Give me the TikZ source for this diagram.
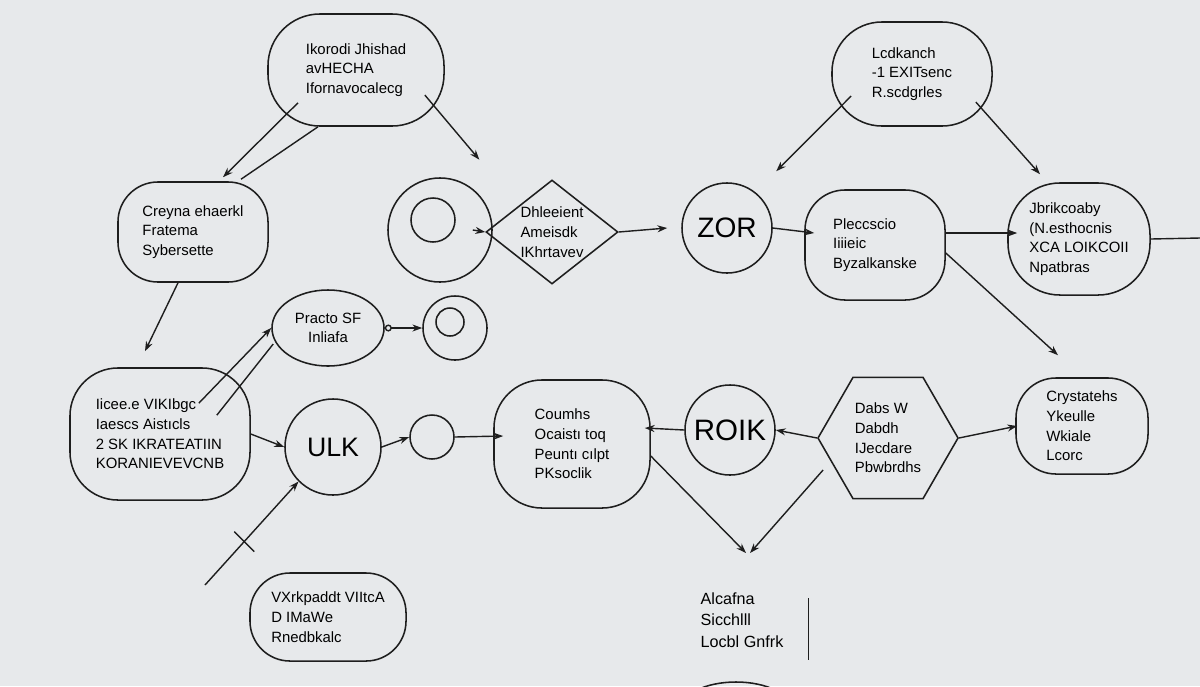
\documentclass[tikz,border=0pt]{standalone}
\usepackage{fontspec}
\setmainfont{Liberation Sans}
\usetikzlibrary{positioning,arrows.meta,shapes.geometric,calc}
\definecolor{Ink}{HTML}{1E1E1E}
\definecolor{Paper}{HTML}{E7E9EB}
\tikzset{
  blob/.style={draw=Ink,line width=1.1pt,rounded corners=1cm,align=left,inner sep=2pt,font=\fontsize{10.6}{14}\selectfont},
  ring/.style={draw=Ink,line width=1.1pt,circle,inner sep=0pt},
  txt/.style={align=left,font=\fontsize{10.6}{14}\selectfont},
  word/.style={font=\fontsize{20}{22}\selectfont},
  link/.style={draw=Ink,line width=1pt,-{Stealth[length=7pt,width=5pt]}},
  plain/.style={draw=Ink,line width=1pt},
}
\begin{document}
\begin{tikzpicture}[x=0.025cm,y=-0.025cm]
  \fill[Paper] (0,0) rectangle (1200,686);
  \useasboundingbox (0,0) rectangle (1200,686);
  % top row
  \node[blob,minimum width=4.4cm,minimum height=2.8cm,rounded corners=1.3cm] (korodi) at (356,70) {Ikorodi Jhishad\\avHECHA\\Ifornavocalecg};
  \node[blob,minimum width=4cm,minimum height=2.6cm,rounded corners=1.25cm] (lcd) at (912,74) {Lcdkanch\\-1 EXITsenc\\R.scdgrles};
  % second row
  \node[blob,minimum width=3.75cm,minimum height=2.5cm] (creyna) at (193,232) {Creyna ehaerkl\\Fratema\\Sybersette};
  \node[ring,minimum size=2.6cm] (bigc) at (440,230) {};
  \node[ring,minimum size=1.1cm] (bigin) at (433,220) {};
  \node[draw=Ink,line width=1.1pt,diamond,minimum width=3.3cm,minimum height=2.6cm,inner sep=0pt] (dhle) at (552,232) {};
  \node[txt] at (dhle) {Dhleeient\\Ameisdk\\IKhrtavev};
  \node[ring,word,minimum size=2.25cm] (zor) at (727,228) {ZOR};
  \node[blob,minimum width=3.5cm,minimum height=2.75cm] (plec) at (875,245) {Pleccscio\\Iiiieic\\Byzalkanske};
  \node[blob,minimum width=3.55cm,minimum height=2.8cm,rounded corners=1.3cm] (jbri) at (1079,239) {Jbrikcoaby\\(N.esthocnis\\XCA LOIKCOII\\Npatbras};
  % third row
  \node[draw=Ink,line width=1.1pt,ellipse,minimum width=2.8cm,minimum height=1.9cm,inner sep=0pt,txt,align=center] (practo) at (328,328) {Practo SF\\Inliafa};
  \node[ring,minimum size=1.6cm] (loop) at (455,328) {};
  \node[ring,minimum size=0.7cm] (loopin) at (450,322) {};
  % fourth row
  \node[blob,minimum width=4.5cm,minimum height=3.3cm,rounded corners=1.2cm] (iicee) at (160,434) {Iicee.e VIKIbgc\\Iaescs Aistıcls\\2 SK IKRATEATIIN\\KORANIEVEVCNB};
  \node[ring,word,font=\fontsize{19}{21}\selectfont,minimum size=2.4cm] (ulk) at (333,447) {ULK};
  \node[ring,minimum size=1.1cm] (knot) at (432,437) {};
  \node[blob,minimum width=3.9cm,minimum height=3.2cm,rounded corners=1.2cm] (coumhs) at (572,444) {Coumhs\\Ocaistı toq\\Peuntı cılpt\\PKsoclik};
  \node[ring,word,font=\fontsize{21}{23}\selectfont,minimum size=2.25cm] (roik) at (730,430) {ROIK};
  \node[draw=Ink,line width=1.1pt,regular polygon,regular polygon sides=6,minimum size=3.5cm,inner sep=0pt] (dabs) at (888,438) {};
  \node[txt] at (dabs) {Dabs W\\Dabdh\\IJecdare\\Pbwbrdhs};
  \node[blob,minimum width=3.3cm,minimum height=2.4cm] (crys) at (1082,426) {Crystatehs\\Ykeulle\\Wkiale\\Lcorc};
  % bottom row
  \node[blob,minimum width=3.9cm,minimum height=2.2cm] (vxrk) at (328,617) {VXrkpaddt VIItcA\\D IMaWe\\Rnedbkalc};
  \node[txt,font=\fontsize{11.5}{15.5}\selectfont] (alca) at (742,620) {Alcafna\\Sicchlll\\Locbl Gnfrk};
  \node[draw=Ink,line width=1.1pt,ellipse,minimum width=2.8cm,minimum height=1.4cm] (stub) at (736,710) {};
  \coordinate (tail) at (205,585);
  \coordinate (meet) at (746,553);
  \coordinate (edge) at (1200,238);

  % connectors
  \draw[link] ($(korodi.south)+(-58,-24)$) -- ($(creyna.north)+(30,-4)$);
  \draw[plain] ($(korodi.south)+(-38,0)$) -- ($(creyna.north)+(48,-2)$);
  \draw[link] ($(korodi.east)+(-20,25)$) -- ($(bigc.north east)+(2,-33)$);
  \draw[link] ($(lcd.west)+(20,22)$) -- ($(plec.north west)+(-28,-18)$);
  \draw[link] ($(lcd.east)+(-17,28)$) -- ($(jbri.north)+(-39,-8)$);
  \draw[link] ($(creyna.south)+(-15,0)$) -- ($(iicee.north)+(-15,-16)$);
  \draw[link] ($(bigc.east)+(-20,0)$) -- (dhle.west);
  \draw[link] (dhle.east) -- ($(zor.west)+(-14,0)$);
  \draw[link] (zor.east) -- ($(plec.west)+(10,-12)$);
  \draw[link] ($(plec.east)+(0,-12)$) -- ($(jbri.west)+(10,-6)$);
  \draw[link] ($(plec.east)+(0,8)$) -- ($(crys.north)+(-24,-22)$);
  \draw[plain] (jbri.east) -- (edge);
  \draw[draw=Ink,line width=1pt,{Circle[open,length=5pt]}-{Stealth[length=7pt,width=5pt]}] (practo.east) -- (loop.west);
  \draw[link] ($(iicee.north east)+(-52,36)$) -- (practo.west);
  \draw[plain] ($(iicee.north east)+(-34,48)$) -- ($(practo.west)+(2,16)$);
  \draw[link] (iicee.east) -- (ulk.west);
  \draw[link] (tail) -- (ulk.225);
  \draw[plain] ($(tail)!0.42!(ulk.225)$) ++(-10,-10) -- ++(20,20);
  \draw[link] (ulk.east) -- (knot.west);
  \draw[link] (knot.east) -- ($(coumhs.west)+(10,-8)$);
  \draw[link] (roik.west) -- ($(coumhs.east)+(-6,-16)$);
  \draw[link] (dabs.west) -- (roik.east);
  \draw[link] (dabs.east) -- ($(crys.west)+(2,0)$);
  \draw[link] ($(coumhs.east)+(0,12)$) -- (meet);
  \draw[link] ($(dabs.west)+(6,32)$) -- ($(meet)+(4,0)$);
  \draw[plain] ($(alca.east)+(20,-22)$) -- ($(alca.east)+(20,40)$);
\end{tikzpicture}
\end{document}
